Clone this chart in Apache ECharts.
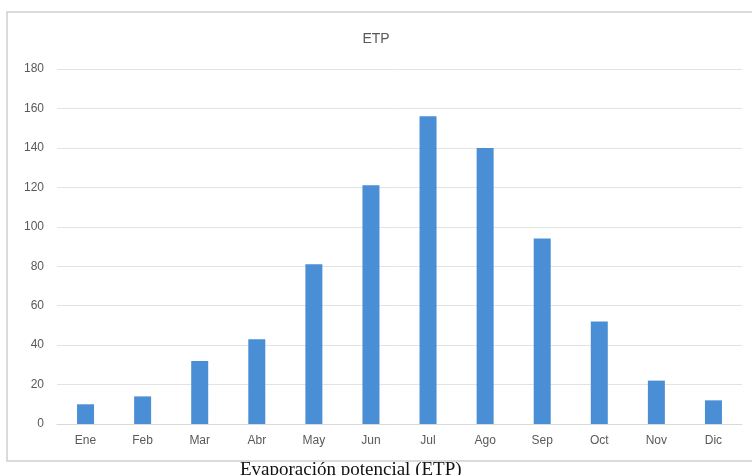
<!DOCTYPE html>
<html>
<head>
<meta charset="utf-8">
<script src="https://cdn.jsdelivr.net/npm/echarts@6/dist/echarts.min.js"></script>
<style>
  html, body { margin: 0; padding: 0; background: #fff; }
  #chart { width: 752px; height: 475px; }
</style>
</head>
<body>
<div id="chart"></div>
<script>
// meses y ETP (mm)
var meses = ['Ene', 'Feb', 'Mar', 'Abr', 'May', 'Jun', 'Jul', 'Ago', 'Sep', 'Oct', 'Nov', 'Dic'];
var etp = [10, 14, 32, 43, 81, 121, 156, 140, 94, 52, 22, 12];

var myChart = echarts.init(document.getElementById('chart'));
var option = {
  animation: false,
  title: {
    text: 'ETP',
    left: 'center',
    top: 27,
    textStyle: { fontFamily: 'Liberation Sans', fontSize: 14, fontWeight: 'normal', color: '#595959' }
  },
  graphic: [
    {
      type: 'rect',
      shape: { x: 7, y: 12, width: 760, height: 449 },
      style: { fill: 'none', stroke: '#d0d0d0', lineWidth: 1.5 },
      z: -1
    },
    {
      // leyenda del documento, cortada por el borde inferior
      type: 'text',
      left: 240,
      top: 461,
      style: { text: 'Evaporación potencial (ETP)', font: '19px "Liberation Serif"', fill: '#111' }
    }
  ],
  grid: { left: 57, right: 10, top: 69, bottom: 51 },
  xAxis: {
    type: 'category',
    data: meses,
    axisLine: { lineStyle: { color: '#d9d9d9' } },
    axisTick: { show: false },
    axisLabel: { color: '#595959', fontFamily: 'Liberation Sans', fontSize: 12, margin: 11 }
  },
  yAxis: {
    type: 'value',
    min: 0,
    max: 180,
    interval: 20,
    axisLine: { show: false },
    axisTick: { show: false },
    splitLine: { lineStyle: { color: '#e3e3e3' } },
    axisLabel: { color: '#595959', fontFamily: 'Liberation Sans', fontSize: 12, margin: 13 }
  },
  series: [
    {
      name: 'ETP',
      type: 'bar',
      barWidth: 17,
      itemStyle: { color: '#4a8fd6' },
      data: etp
    }
  ]
};
myChart.setOption(option);
</script>
</body>
</html>
